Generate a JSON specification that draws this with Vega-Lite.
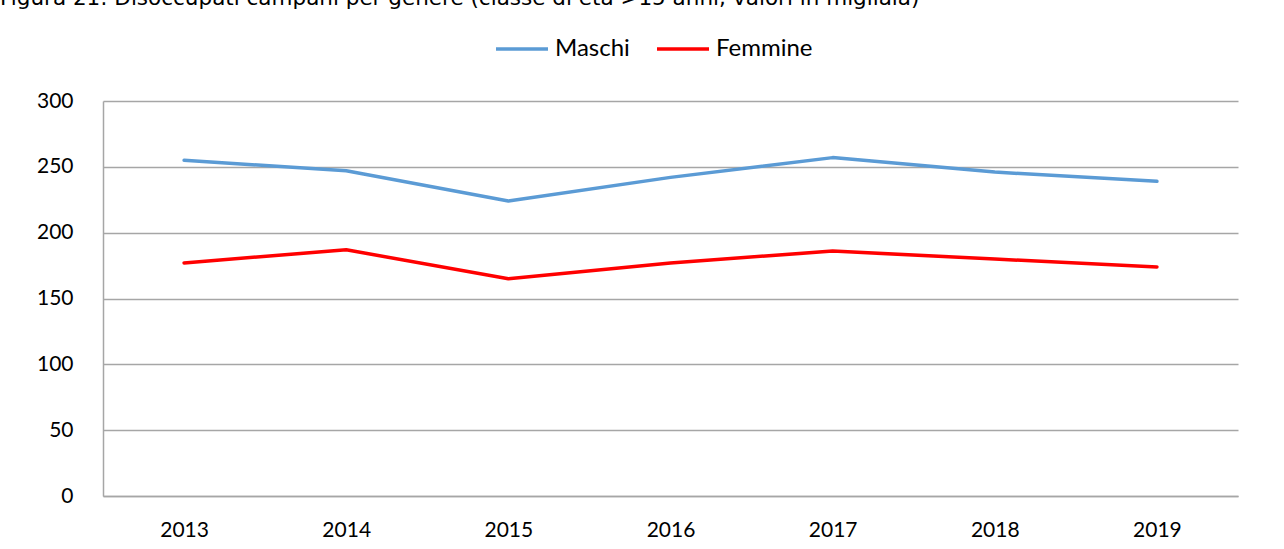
{
  "$schema": "https://vega.github.io/schema/vega-lite/v6.json",
  "autosize": {"type": "none"},
  "width": 1135,
  "height": 395,
  "padding": {"left": 103, "top": 101, "right": 46, "bottom": 53},
  "background": "white",
  "title": {
    "text": "Figura 21: Disoccupati campani per genere (classe di età >15 anni; valori in migliaia)",
    "anchor": "start",
    "frame": "group",
    "dx": -103,
    "offset": -5,
    "baseline": "alphabetic",
    "font": "DejaVu Sans",
    "fontSize": 21.5,
    "fontWeight": "normal",
    "color": "#000000"
  },
  "data": {
    "values": [
      {"anno": "2013", "genere": "Maschi", "valore": 255},
      {"anno": "2014", "genere": "Maschi", "valore": 247},
      {"anno": "2015", "genere": "Maschi", "valore": 224},
      {"anno": "2016", "genere": "Maschi", "valore": 242},
      {"anno": "2017", "genere": "Maschi", "valore": 257},
      {"anno": "2018", "genere": "Maschi", "valore": 246},
      {"anno": "2019", "genere": "Maschi", "valore": 239},
      {"anno": "2013", "genere": "Femmine", "valore": 177},
      {"anno": "2014", "genere": "Femmine", "valore": 187},
      {"anno": "2015", "genere": "Femmine", "valore": 165},
      {"anno": "2016", "genere": "Femmine", "valore": 177},
      {"anno": "2017", "genere": "Femmine", "valore": 186},
      {"anno": "2018", "genere": "Femmine", "valore": 180},
      {"anno": "2019", "genere": "Femmine", "valore": 174}
    ]
  },
  "mark": {"type": "line", "strokeWidth": 3.5, "strokeCap": "round", "strokeJoin": "round"},
  "encoding": {
    "x": {
      "field": "anno",
      "type": "ordinal",
      "scale": {"type": "point", "padding": 0.5},
      "axis": {
        "title": null,
        "labelAngle": 0,
        "grid": false,
        "ticks": false,
        "domainColor": "#A6A6A6",
        "domainWidth": 1.5,
        "labelPadding": 23,
        "labelFont": "Lato",
        "labelFontSize": 21,
        "labelColor": "#000000"
      }
    },
    "y": {
      "field": "valore",
      "type": "quantitative",
      "scale": {"domain": [0, 300], "nice": false},
      "axis": {
        "title": null,
        "values": [0, 50, 100, 150, 200, 250, 300],
        "grid": true,
        "gridColor": "#A6A6A6",
        "gridWidth": 1.5,
        "ticks": false,
        "domainColor": "#A6A6A6",
        "domainWidth": 1.5,
        "labelPadding": 30,
        "labelFont": "Lato",
        "labelFontSize": 21,
        "labelColor": "#000000"
      }
    },
    "color": {
      "field": "genere",
      "type": "nominal",
      "scale": {"domain": ["Maschi", "Femmine"], "range": ["#5B9BD5", "#FF0000"]},
      "legend": {
        "title": null,
        "orient": "none",
        "direction": "horizontal",
        "legendX": 391,
        "legendY": -80,
        "symbolType": "stroke",
        "symbolSize": 2704,
        "symbolStrokeWidth": 3.5,
        "labelOffset": 5,
        "columnPadding": 20,
        "labelFont": "Lato",
        "labelFontSize": 24,
        "labelColor": "#000000"
      }
    }
  },
  "config": {"view": {"stroke": null}}
}
